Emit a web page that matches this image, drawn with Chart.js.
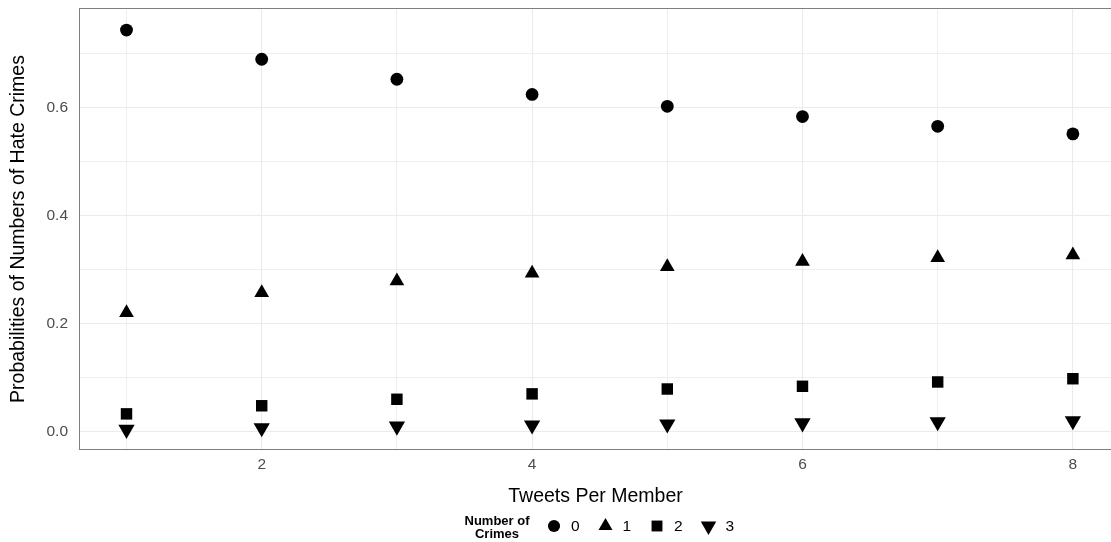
<!DOCTYPE html>
<html>
<head>
<meta charset="utf-8">
<script src="https://cdn.jsdelivr.net/npm/chart.js@4.4.1/dist/chart.umd.min.js"></script>
<style>
  html, body { margin: 0; padding: 0; background: #fff; }
  #wrap { width: 1111px; height: 542px; }
</style>
</head>
<body>
<div id="wrap"><canvas id="myChart" width="1111" height="542"></canvas></div>
<script>
// tweets per member on the x axis
var tweets = [1, 2, 3, 4, 5, 6, 7, 8];
// probability of 0,1,2,3 hate crimes
var crimes0 = [0.743, 0.689, 0.652, 0.624, 0.602, 0.583, 0.565, 0.551];
var crimes1 = [0.220, 0.257, 0.279, 0.293, 0.305, 0.315, 0.322, 0.327];
var crimes2 = [0.033, 0.048, 0.060, 0.070, 0.079, 0.084, 0.092, 0.098];
var crimes3 = [0.004, 0.007, 0.010, 0.012, 0.014, 0.016, 0.018, 0.020];
var crimeLabels = ['0', '1', '2', '3'];

var GRID = '#EBEBEB';
var FONT = "'Liberation Sans', Arial, sans-serif";
Chart.defaults.font.family = FONT;

function pts(vals) {
    return tweets.map(function (t, i) { return { x: t, y: vals[i] }; });
}

var styles = [
    { pointStyle: 'circle', radius: 6.4, rotation: 0 },
    { pointStyle: 'triangle', radius: 8.5, rotation: 0 },
    { pointStyle: 'rect', radius: 8.1, rotation: 0 },
    { pointStyle: 'triangle', radius: 9.4, rotation: 180 }
];
var series = [crimes0, crimes1, crimes2, crimes3];

var datasets = series.map(function (vals, i) {
    return {
        label: crimeLabels[i],
        data: pts(vals),
        pointStyle: styles[i].pointStyle,
        pointRadius: styles[i].radius,
        pointRotation: styles[i].rotation,
        pointBackgroundColor: '#000',
        pointBorderWidth: 0,
        showLine: false
    };
});

// grey frame round the panel (right side runs off the picture)
var panelBorder = {
    id: 'panelBorder',
    beforeDatasetsDraw: function (chart) {
        var a = chart.chartArea, c = chart.ctx;
        c.save();
        c.strokeStyle = '#7F7F7F';
        c.lineWidth = 1;
        c.strokeRect(a.left - 0.5, a.top - 0.5, a.right - a.left + 10, a.bottom - a.top + 1);
        c.restore();
    }
};

// ggplot style legend: title on the left, items in a row
var sideLegend = {
    id: 'sideLegend',
    afterDraw: function (chart) {
        var c = chart.ctx;
        var y = 526;
        c.save();
        c.fillStyle = '#000';
        c.font = 'bold 13px ' + FONT;
        c.textAlign = 'center';
        c.textBaseline = 'middle';
        c.fillText('Number of', 497, 521);
        c.fillText('Crimes', 497, 534);
        c.font = '15.5px ' + FONT;
        c.textAlign = 'left';
        var x = 554;
        chart.data.datasets.forEach(function (ds, i) {
            Chart.helpers.drawPoint(c, {
                pointStyle: ds.pointStyle,
                rotation: ds.pointRotation,
                radius: ds.pointRadius * 0.95,
                borderWidth: 0
            }, x, y);
            c.fillStyle = '#000';
            c.fillText(ds.label, x + 17, y + 1);
            x += 51.5;
        });
        c.restore();
    }
};

function noPad(s) {
    s.paddingTop = 0; s.paddingBottom = 0;
    s.paddingLeft = 0; s.paddingRight = 0;
}

var ctx = document.getElementById('myChart').getContext('2d');
var chart = new Chart(ctx, {
    type: 'scatter',
    data: { datasets: datasets },
    options: {
        responsive: false,
        animation: false,
        layout: { autoPadding: false, padding: { top: 9, right: 0, left: 0, bottom: 31 } },
        plugins: {
            legend: { display: false },
            tooltip: { enabled: false }
        },
        scales: {
            x: {
                type: 'linear',
                min: 0.656,
                max: 8.282,
                afterFit: function (s) { s.height = 62; noPad(s); },
                border: { display: false },
                grid: {
                    drawTicks: false,
                    color: GRID,
                    lineWidth: function (c) { return c.tick && c.tick.value % 2 === 0 ? 1.1 : 0.8; }
                },
                ticks: {
                    stepSize: 1,
                    includeBounds: false,
                    padding: 6,
                    color: '#4D4D4D',
                    font: { size: 15.5 },
                    maxRotation: 0,
                    autoSkip: false,
                    callback: function (v) { return v % 2 === 0 ? String(v) : ''; }
                },
                title: {
                    display: true,
                    text: 'Tweets Per Member',
                    color: '#000',
                    font: { size: 19.5 },
                    padding: { top: 0, bottom: 3 }
                }
            },
            y: {
                type: 'linear',
                min: -0.032,
                max: 0.782,
                afterFit: function (s) { s.width = 80; noPad(s); },
                border: { display: false },
                grid: {
                    drawTicks: false,
                    color: GRID,
                    lineWidth: function (c) { return c.tick && Math.round(c.tick.value * 10) % 2 === 0 ? 1.1 : 0.8; }
                },
                ticks: {
                    stepSize: 0.1,
                    includeBounds: false,
                    padding: 12,
                    color: '#4D4D4D',
                    font: { size: 15.5 },
                    autoSkip: false,
                    callback: function (v) { return Math.round(v * 10) % 2 === 0 ? v.toFixed(1) : ''; }
                },
                title: {
                    display: true,
                    text: 'Probabilities of Numbers of Hate Crimes',
                    color: '#000',
                    font: { size: 19.5 },
                    padding: { top: 7, bottom: 0 }
                }
            }
        }
    },
    plugins: [panelBorder, sideLegend]
});
</script>
</body>
</html>
